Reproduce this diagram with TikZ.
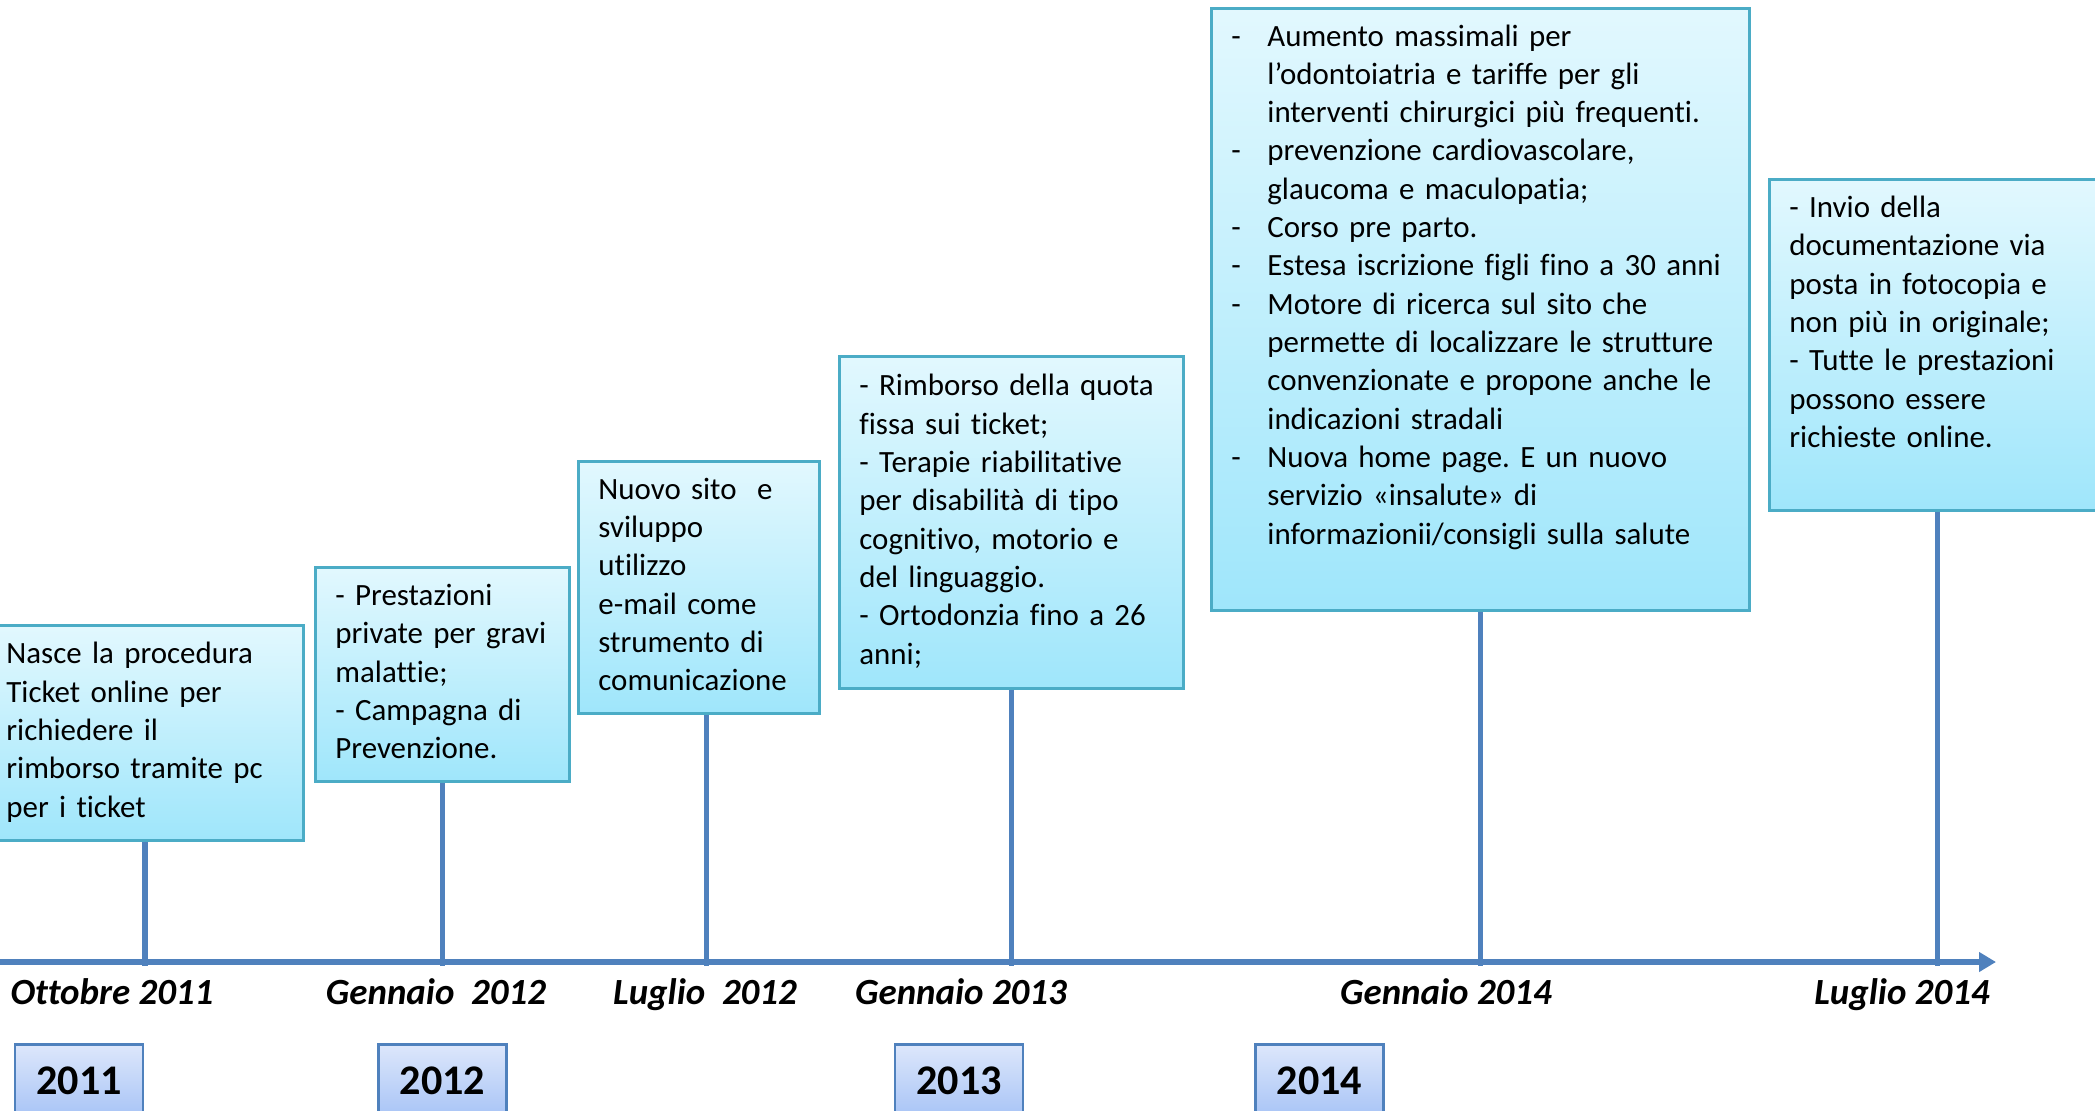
\documentclass[tikz,border=0pt]{standalone}
\usepackage{fontspec}
\setmainfont{Carlito}[Ligatures={TeX,NoCommon}]
\usetikzlibrary{arrows.meta}
\frenchspacing

\definecolor{asse}{HTML}{4F81BD}
\definecolor{bordo}{HTML}{4BACC6}
\definecolor{cielo}{HTML}{E2F8FE}
\definecolor{mare}{HTML}{9FE6FB}
\definecolor{annosu}{HTML}{DDE7FB}
\definecolor{annogiu}{HTML}{A8C4F6}

\newcommand{\righe}[1]{\begin{tabular}{@{}l@{}}#1\end{tabular}}
\newcommand{\punti}[1]{\begin{tabular}{@{}p{0.36cm}@{}l@{}}#1\end{tabular}}

\begin{document}
\begin{tikzpicture}[
  evento/.style={draw=bordo, line width=0.8pt, top color=cielo, bottom color=mare,
    anchor=north west, inner xsep=0.2cm, inner ysep=0pt,
    font=\fontsize{8.8}{10.9}\selectfont},
  anno/.style={draw=asse, line width=0.8pt, top color=annosu, bottom color=annogiu,
    anchor=north, minimum width=1.28cm, minimum height=0.72cm, inner sep=0pt,
    font=\bfseries\fontsize{12}{14}\selectfont},
  data/.style={font=\bfseries\itshape\fontsize{10.5}{12}\selectfont,
    text height=1.5ex, text depth=.25ex},
  linea/.style={color=asse, line width=1.6pt}
]
\useasboundingbox (0,0) rectangle (20.95,11.10);

% asse del tempo
\coordinate (inizio) at (-0.1,1.48);
\coordinate (fine) at (19.96,1.48);

\node[evento, text width=2.77cm, minimum height=2.15cm] (b1) at (-0.15,4.86)
  {\righe{Nasce la procedura\\ Ticket online per\\ richiedere il\\ rimborso tramite pc\\ per i ticket}};
\node[evento, text width=2.14cm, minimum height=2.14cm] (b2) at (3.14,5.44)
  {\righe{- Prestazioni\\ private per gravi\\ malattie;\\ - Campagna di\\ Prevenzione.}};
\node[evento, text width=2.01cm, minimum height=2.52cm] (b3) at (5.77,6.50)
  {\righe{Nuovo sito\ \ e\\ sviluppo\\ utilizzo\\ e-mail come\\ strumento di\\ comunicazione}};
\node[evento, text width=3.04cm, minimum height=3.32cm] (b4) at (8.38,7.55)
  {\righe{- Rimborso della quota\\ fissa sui ticket;\\ - Terapie riabilitative\\ per disabilità di tipo\\
   cognitivo, motorio e\\ del linguaggio.\\ - Ortodonzia fino a 26\\ anni;}};
\node[evento, text width=4.98cm, minimum height=6.02cm] (b5) at (12.10,11.03)
  {\punti{- & Aumento massimali per\\ & l'odontoiatria e tariffe per gli\\ & interventi chirurgici più frequenti.\\
   - & prevenzione cardiovascolare,\\ & glaucoma e maculopatia;\\
   - & Corso pre parto.\\
   - & Estesa iscrizione figli fino a 30 anni\\
   - & Motore di ricerca sul sito che\\ & permette di localizzare le strutture\\ & convenzionate e propone anche le\\ & indicazioni stradali\\
   - & Nuova home page. E un nuovo\\ & servizio «insalute» di\\ & informazionii/consigli sulla salute\\[0.44cm]}};
\node[evento, text width=2.96cm, minimum height=3.31cm] (b6) at (17.68,9.32)
  {\righe{- Invio della\\ documentazione via\\ posta in fotocopia e\\ non più in originale;\\
   - Tutte le prestazioni\\ possono essere\\ richieste online.\\[0.40cm]}};

\foreach \i/\s in {1/0, 2/0, 3/0.075, 4/0, 5/0, 6/0}
  \draw[linea] ([xshift=\s cm]b\i.south) -- ([xshift=\s cm, yshift=-0.04cm]b\i.south |- inizio);

\draw[linea, line width=1.5pt, -{Triangle[length=0.17cm, width=0.19cm]}] (inizio) -- (fine);

\node[data] (d1) at (1.12,1.16) {Ottobre 2011};
\node[data] (d2) at (4.36,1.16) {Gennaio\ \ 2012};
\node[data] (d3) at (7.05,1.16) {Luglio\ \ 2012};
\node[data] (d4) at (9.61,1.16) {Gennaio 2013};
\node[data] (d5) at (14.46,1.16) {Gennaio 2014};
\node[data] (d6) at (19.02,1.16) {Luglio 2014};

\foreach \anno/\x in {2011/0.79, 2012/4.425, 2013/9.59, 2014/13.195}
  \node[anno] (a\anno) at (\x,0.67) {\anno};

\end{tikzpicture}
\end{document}
